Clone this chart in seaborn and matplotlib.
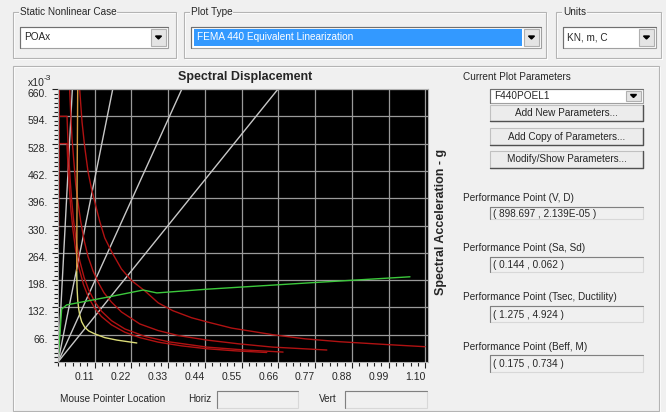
import pandas as pd
import matplotlib
matplotlib.use('Agg')
import matplotlib.pyplot as plt
from matplotlib.patches import Rectangle, Polygon
from matplotlib.lines import Line2D
from matplotlib.ticker import MultipleLocator
import seaborn as sns

# curves (Sd in m, Sa in g)
capacity_sd = [0.0, 0.011, 0.026, 0.071, 0.150, 0.255, 0.296, 0.446, 0.745, 1.054]
capacity_sa = [0.0, 0.128, 0.138, 0.145, 0.157, 0.174, 0.167, 0.176, 0.191, 0.206]

demand1_sd = [0.065, 0.072, 0.080, 0.090, 0.100, 0.110, 0.125, 0.140, 0.161, 0.190, 0.220,
              0.260, 0.300, 0.344, 0.400, 0.446, 0.520, 0.643, 0.740, 0.844, 0.988, 1.099]
demand1_sa = [0.658, 0.580, 0.520, 0.460, 0.420, 0.387, 0.340, 0.300, 0.266, 0.225, 0.197,
              0.172, 0.143, 0.124, 0.107, 0.097, 0.082, 0.066, 0.056, 0.049, 0.042, 0.037]
demand2_sd = [0.035, 0.038, 0.042, 0.047, 0.053, 0.060, 0.068, 0.078, 0.090, 0.105, 0.120,
              0.138, 0.160, 0.190, 0.245, 0.300, 0.360, 0.446, 0.540, 0.643, 0.805]
demand2_sa = [0.658, 0.600, 0.540, 0.490, 0.430, 0.385, 0.340, 0.295, 0.255, 0.220, 0.193,
              0.167, 0.145, 0.121, 0.092, 0.076, 0.064, 0.053, 0.044, 0.036, 0.029]
demand3_sd = [0.001, 0.002, 0.027, 0.029, 0.032, 0.036, 0.041, 0.047, 0.055, 0.065, 0.078,
              0.092, 0.110, 0.130, 0.160, 0.200, 0.260, 0.330, 0.446, 0.560, 0.674]
demand3_sa = [0.280, 0.594, 0.594, 0.550, 0.500, 0.445, 0.390, 0.340, 0.290, 0.245, 0.205,
              0.174, 0.146, 0.123, 0.100, 0.080, 0.062, 0.049, 0.036, 0.029, 0.024]
demand4_sd = [0.001, 0.002, 0.027, 0.030, 0.034, 0.039, 0.045, 0.053, 0.063, 0.076, 0.092,
              0.110, 0.130, 0.160, 0.200, 0.245, 0.300, 0.370, 0.446, 0.530, 0.625]
demand4_sa = [0.280, 0.528, 0.528, 0.470, 0.420, 0.365, 0.318, 0.270, 0.227, 0.188, 0.155,
              0.130, 0.110, 0.090, 0.072, 0.059, 0.048, 0.039, 0.032, 0.027, 0.023]
rise_sd = [0.001, 0.004]
rise_sa = [0.280, 0.660]

orange_sd = [0.059, 0.057, 0.056]
orange_sa = [0.660, 0.400, 0.218]
yellow_sd = [0.056, 0.057, 0.059, 0.062, 0.065, 0.071, 0.080, 0.092, 0.110, 0.140, 0.176, 0.236]
yellow_sa = [0.218, 0.180, 0.150, 0.128, 0.114, 0.097, 0.084, 0.075, 0.068, 0.059, 0.053, 0.046]

# constant period lines from the origin, Sd where they leave the top edge
period_end_sd = [0.043, 0.164, 0.371, 0.659]
top_sa = 0.66

x_ticks = [0.11, 0.22, 0.33, 0.44, 0.55, 0.66, 0.77, 0.88, 0.99, 1.10]
x_labels = ['0.11', '0.22', '0.33', '0.44', '0.55', '0.66', '0.77', '0.88', '0.99', '1.10']
y_ticks = [0.066, 0.132, 0.198, 0.264, 0.330, 0.396, 0.462, 0.528, 0.594, 0.660]
y_labels = ['66.', '132.', '198.', '264.', '330.', '396.', '462.', '528.', '594.', '660.']

bg = '#f0f0f0'
red = '#b01212'

frames = []
colors = {}
for i, end in enumerate(period_end_sd):
    frames.append(pd.DataFrame({'sd': [0.0, end], 'sa': [0.0, top_sa], 'curve': 'T%d' % i}))
    colors['T%d' % i] = '#c8c8c8'
for name, sd, sa, c in [('rise', rise_sd, rise_sa, red),
                        ('d1', demand1_sd, demand1_sa, red),
                        ('d2', demand2_sd, demand2_sa, red),
                        ('d3', demand3_sd, demand3_sa, red),
                        ('d4', demand4_sd, demand4_sa, red),
                        ('orange', orange_sd, orange_sa, '#d89a40'),
                        ('yellow', yellow_sd, yellow_sa, '#dcdc78'),
                        ('capacity', capacity_sd, capacity_sa, '#3cc83c')]:
    frames.append(pd.DataFrame({'sd': sd, 'sa': sa, 'curve': name}))
    colors[name] = c
df = pd.concat(frames, ignore_index=True)

sns.set_style('white')
plt.rcParams['font.family'] = ['Liberation Sans', 'DejaVu Sans']

W, H = 666, 412
def fx(x):
    return x / W
def fy(y):
    return 1 - y / H

fig = plt.figure(figsize=(6.66, 4.12), dpi=100, facecolor=bg)

def rect(x0, y0, x1, y1, face='none', edge='#a0a0a0', lw=0.8, z=1):
    fig.add_artist(Rectangle((fx(x0), fy(y1)), (x1 - x0) / W, (y1 - y0) / H,
                             transform=fig.transFigure, facecolor=face,
                             edgecolor=edge, lw=lw, zorder=z))

def line(xs, ys, c, lw=0.8, z=2):
    fig.add_artist(Line2D([fx(x) for x in xs], [fy(y) for y in ys],
                          transform=fig.transFigure, color=c, lw=lw, zorder=z))

def txt(x, y, s, **kw):
    kw.setdefault('fontsize', 7.2)
    kw.setdefault('va', 'center')
    fig.text(fx(x), fy(y), s, **kw)

def group(x0, y0, x1, y1, title):
    rect(x0, y0, x1, y1, edge='#b4b4b4')
    rect(x0 + 1, y0 + 1, x1 + 1, y1 + 1, edge='white', z=0)
    if title:
        txt(x0 + 7, y0, title, zorder=3,
            bbox=dict(facecolor=bg, edgecolor='none', pad=0.5))

def arrow_button(x0, y0, x1, y1):
    rect(x0, y0, x1, y1, face='#e4e4e4', edge='#b0b0b0', z=3)
    cx, cy = (x0 + x1) / 2, (y0 + y1) / 2
    fig.add_artist(Polygon([(fx(cx - 3), fy(cy - 1.5)), (fx(cx + 3), fy(cy - 1.5)),
                            (fx(cx), fy(cy + 1.5))], closed=True,
                           transform=fig.transFigure, color='black', zorder=4))

def combo(x0, y0, x1, y1, text):
    rect(x0, y0, x1, y1, face='white', edge='#a0a0a0', z=2)
    line([x0, x0, x1], [y1, y0, y0], '#707070', z=3)
    arrow_button(x1 - 17, y0 + 2, x1 - 2, y1 - 2)
    if text:
        txt(x0 + 4, (y0 + y1) / 2, text, zorder=4)

def button(x0, y0, x1, y1, text):
    rect(x0, y0, x1, y1, face='#ececec', edge='#c0c0c0', z=2)
    line([x0, x1, x1], [y1, y1, y0], '#505050', lw=1.0, z=3)
    txt((x0 + x1) / 2, (y0 + y1) / 2, text, ha='center', zorder=4)

def valuebox(x0, y0, x1, y1, text):
    rect(x0, y0, x1, y1, face=bg, edge='#d8d8d8', z=2)
    line([x0, x0, x1], [y1, y0, y0], '#808080', z=3)
    txt(x0 + 3, (y0 + y1) / 2 + 0.5, text, zorder=4)

# top row of selectors
group(13, 12, 176, 58, 'Static Nonlinear Case')
combo(20, 27, 168, 48, 'POAx')
group(184, 12, 546, 58, 'Plot Type')
combo(191, 27, 541, 48, None)
rect(194, 29, 522, 46, face='#3399ff', edge='none', z=3)
txt(197, 37.5, 'FEMA 440 Equivalent Linearization', color='white', zorder=4)
group(556, 12, 661, 58, 'Units')
combo(563, 27, 656, 48, 'KN, m, C')

# main panel
group(13, 66, 659, 411, None)

# right side controls
txt(463, 77, 'Current Plot Parameters')
combo(490, 89, 643, 103, 'F440POEL1')
button(490, 105, 643, 121, 'Add New Parameters...')
button(490, 128, 643, 145, 'Add Copy of Parameters...')
button(490, 151, 643, 168, 'Modify/Show Parameters...')
txt(463, 198, 'Performance Point (V, D)')
valuebox(490, 207, 643, 219, '( 898.697 , 2.139E-05 )')
txt(463, 248, 'Performance Point (Sa, Sd)')
valuebox(490, 257, 643, 272, '( 0.144 , 0.062 )')
txt(463, 297, 'Performance Point (Tsec, Ductility)')
valuebox(490, 306, 643, 322, '( 1.275 , 4.924 )')
txt(463, 347, 'Performance Point (Beff, M)')
valuebox(490, 355, 643, 372, '( 0.175 , 0.734 )')

# mouse pointer row
txt(60, 399, 'Mouse Pointer Location')
txt(188, 399, 'Horiz')
valuebox(217, 391, 298, 408, '')
txt(319, 399, 'Vert')
valuebox(345, 391, 427, 408, '')

# the plot itself
ax = fig.add_axes([fx(58), fy(362), (428 - 58) / W, (362 - 89) / H])
ax.set_facecolor('black')
sns.lineplot(data=df, x='sd', y='sa', hue='curve', hue_order=list(colors),
             palette=colors, sort=False, estimator=None, legend=False,
             lw=1.0, ax=ax)
ax.set_xlim(0, 1.108)
ax.set_ylim(0, 0.66)
ax.set_xticks(x_ticks)
ax.set_xticklabels(x_labels, ha='right')
ax.set_yticks(y_ticks)
ax.set_yticklabels(y_labels, va='top')
ax.xaxis.set_minor_locator(MultipleLocator(0.022))
ax.yaxis.set_minor_locator(MultipleLocator(0.011))
ax.tick_params(which='both', bottom=True, left=True, top=False, right=False)
ax.tick_params(which='major', direction='out', length=4.5, width=0.8,
               color='#202020', labelsize=7.5, pad=3)
ax.tick_params(which='minor', direction='out', length=2.8, width=0.8, color='#202020')
ax.grid(True, which='major', color='#9a9a9a', lw=0.9)
ax.set_axisbelow(True)
for s in ax.spines.values():
    s.set_color('#b0b0b0')
ax.set_xlabel('')
ax.set_ylabel('')

fig.text(fx(245), fy(77), 'Spectral Displacement', ha='center', va='center',
         fontsize=9, fontweight='bold')
fig.text(fx(441), fy(222), 'Spectral Acceleration - g', ha='center', va='center',
         rotation=90, fontsize=9, fontweight='bold')
txt(28, 83, 'x10', fontsize=7.5)
txt(44, 79, '-3', fontsize=6)

fig.savefig('out.png', dpi=100, facecolor=bg)
